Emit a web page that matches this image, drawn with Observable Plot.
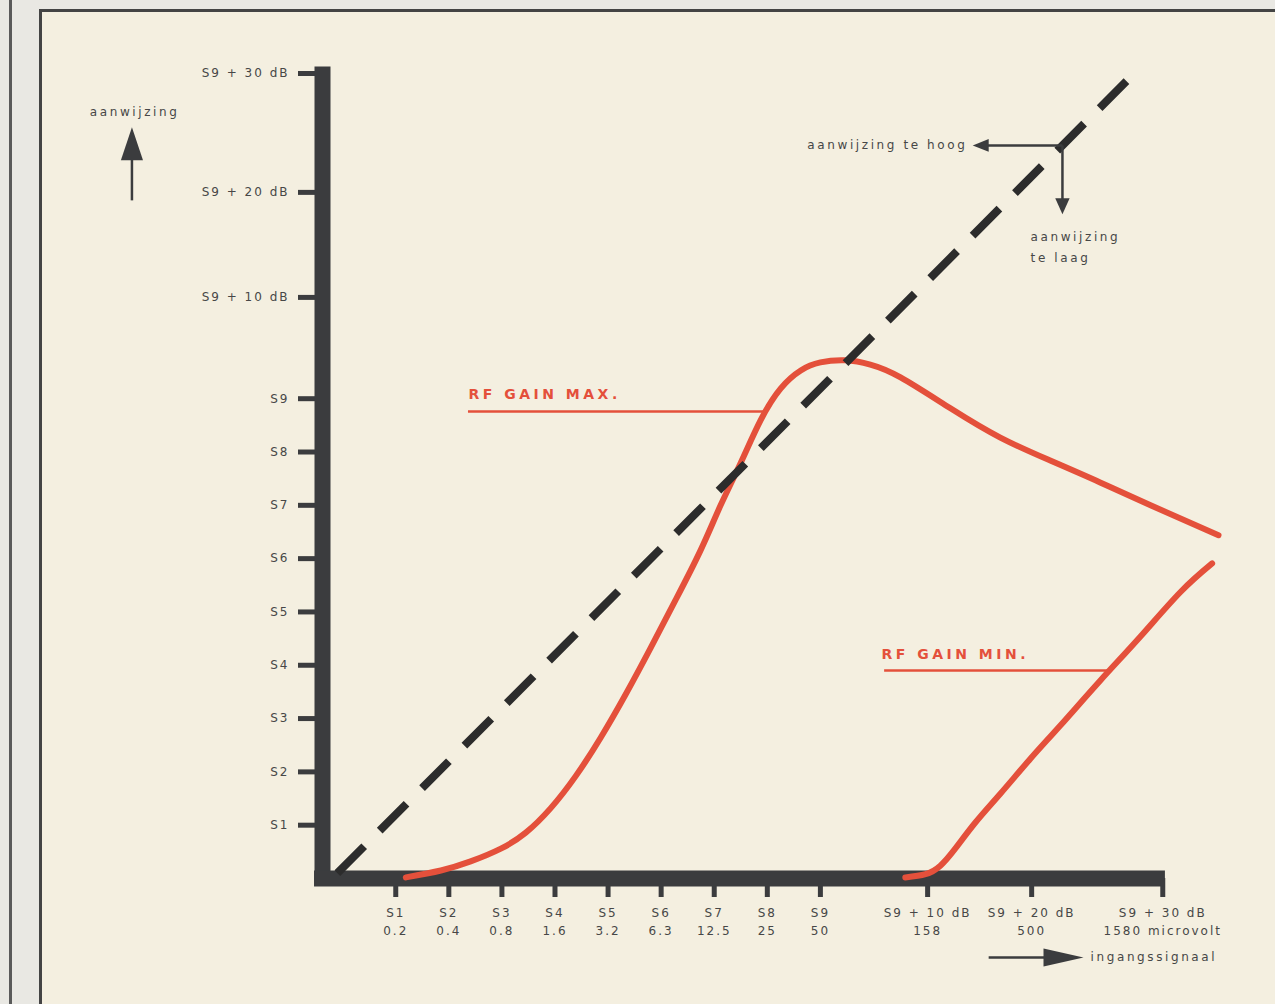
<!DOCTYPE html>
<html><head><meta charset="utf-8">
<script src="https://cdn.jsdelivr.net/npm/d3@7"></script>
<script src="https://cdn.jsdelivr.net/npm/@observablehq/plot@0.6"></script>
<style>
html,body{margin:0;padding:0;width:1275px;height:1004px;overflow:hidden;background:#e9e8e3;}
#outer{position:absolute;left:9px;top:0;width:3px;height:1004px;background:#5a5a5a;}
#paper{position:absolute;left:39px;top:9px;width:1236px;height:995px;background:#f4efe0;border-left:3px solid #444;border-top:3px solid #444;}
#chart{position:absolute;left:0;top:0;}
g[aria-label="y-axis tick label"], g[aria-label="x-axis tick label"]{letter-spacing:2px;}
</style></head><body>
<div id="outer"></div><div id="paper"></div><div id="chart"></div>
<script>
// ---- data (positions in chart units: one S-unit = 1) ----
const yTickPos = [1, 2, 3, 4, 5, 6, 7, 8, 9, 10.9, 12.87, 15.1];
const yTickLabels = ["S1","S2","S3","S4","S5","S6","S7","S8","S9","S9 + 10 dB","S9 + 20 dB","S9 + 30 dB"];
const xTickPos = [1, 2, 3, 4, 5, 6, 7, 8, 9, 11.02, 12.98, 15.45];
const xTickSUnits = ["S1","S2","S3","S4","S5","S6","S7","S8","S9","S9 + 10 dB","S9 + 20 dB","S9 + 30 dB"];
const xTickMicrovolt = ["0.2","0.4","0.8","1.6","3.2","6.3","12.5","25","50","158","500","1580 microvolt"];

const rfMaxX = [1.19, 1.85, 2.41, 2.98, 3.45, 3.92, 4.39, 4.86, 5.33, 5.80, 6.27, 6.74, 7.12, 7.50, 7.87, 8.25, 8.63, 9.00, 9.47, 9.94, 10.51, 11.45, 12.39, 13.33, 14.27, 15.22, 16.5];
const rfMaxY = [0.02, 0.15, 0.32, 0.56, 0.86, 1.32, 1.92, 2.64, 3.45, 4.32, 5.22, 6.15, 7.00, 7.80, 8.59, 9.19, 9.53, 9.68, 9.72, 9.64, 9.40, 8.82, 8.27, 7.84, 7.43, 7.00, 6.44];
const rfMinX = [10.60, 10.98, 11.26, 11.54, 11.92, 12.39, 12.96, 13.52, 14.27, 15.03, 15.78, 16.38];
const rfMinY = [0.02, 0.08, 0.24, 0.56, 1.05, 1.59, 2.25, 2.87, 3.71, 4.54, 5.37, 5.91];
const idealX = [-0.1, 14.97];
const idealY = [0.1, 15.16];

const seriesNames = ["RF GAIN MAX.", "RF GAIN MIN."];
const seriesLabelX = [2.37, 10.15];
const seriesLabelY = [9.08, 4.20];
const leaderX1 = [2.37, 10.21];
const leaderX2 = [7.97, 14.46];
const leaderY = [8.76, 3.90];

// ---- styles ----
const red = "#e4503b";
const ink = "#3b3c3e";
const textColor = "#474747";

const line = (xs, ys) => xs.map((x, i) => ({x, y: ys[i]}));
const yLabelOf = new Map(yTickPos.map((p, i) => [p, yTickLabels[i]]));
const xLabelOf = new Map(xTickPos.map((p, i) => [p, xTickSUnits[i] + "\n" + xTickMicrovolt[i]]));
const seriesLabels = seriesNames.map((name, i) => ({name, x: seriesLabelX[i], y: seriesLabelY[i]}));
const leaders = leaderY.map((y, i) => ({x1: leaderX1[i], x2: leaderX2[i], y}));

function head(dir, ratio) {
  return {draw(ctx, size) {
    const r = Math.sqrt(size / Math.PI), w = ratio * r;
    if (dir === "up") { ctx.moveTo(0, -r); ctx.lineTo(w, r); ctx.lineTo(-w, r); }
    else if (dir === "down") { ctx.moveTo(0, r); ctx.lineTo(w, -r); ctx.lineTo(-w, -r); }
    else if (dir === "left") { ctx.moveTo(-r, 0); ctx.lineTo(r, -w); ctx.lineTo(r, w); }
    else { ctx.moveTo(r, 0); ctx.lineTo(-r, -w); ctx.lineTo(-r, w); }
    ctx.closePath();
  }};
}

const shafts = [
  {x1: -3.97, y1: 12.72, x2: -3.97, y2: 13.5},
  {x1: 13.56, y1: 13.75, x2: 12.1, y2: 13.75},
  {x1: 13.56, y1: 13.75, x2: 13.56, y2: 12.7},
  {x1: 12.17, y1: -1.48, x2: 13.3, y2: -1.48}
];

const chart = Plot.plot({
  width: 1275,
  height: 1004,
  marginLeft: 322,
  marginRight: 57,
  marginTop: 57,
  marginBottom: 126,
  x: {domain: [-0.38, 16.5]},
  y: {domain: [0, 15.4]},
  style: {background: "transparent", overflow: "visible", fontFamily: "DejaVu Sans", color: ink},
  marks: [
    Plot.axisY(yTickPos, {anchor: "left", tickSize: 24, tickPadding: 9, tickFormat: d => yLabelOf.get(d),
      stroke: ink, strokeWidth: 5, fill: textColor, fontSize: 12, label: null}),
    Plot.axisX(xTickPos, {anchor: "bottom", tickSize: 19, tickPadding: 7, tickFormat: d => xLabelOf.get(d),
      stroke: ink, strokeWidth: 5, fill: textColor, fontSize: 12, lineHeight: 1.5, label: null}),
    // heavy axis bars
    Plot.ruleX([-0.38], {y1: -0.15, y2: 15.22, stroke: ink, strokeWidth: 16}),
    Plot.ruleY([0], {x1: -0.53, x2: 15.5, stroke: ink, strokeWidth: 16}),
    // curves
    Plot.line(line(rfMaxX, rfMaxY), {x: "x", y: "y", curve: "natural", stroke: red, strokeWidth: 6, strokeLinecap: "round"}),
    Plot.line(line(rfMinX, rfMinY), {x: "x", y: "y", curve: "natural", stroke: red, strokeWidth: 6, strokeLinecap: "round"}),
    // ideal dashed line
    Plot.line(line(idealX, idealY), {x: "x", y: "y", stroke: "#2c2c2c", strokeWidth: 8, strokeDasharray: "38,22", strokeLinecap: "butt"}),
    // series labels and leaders
    Plot.ruleY(leaders, {y: "y", x1: "x1", x2: "x2", stroke: red, strokeWidth: 2.5}),
    Plot.text(seriesLabels, {x: "x", y: "y", text: "name", textAnchor: "start", fill: red, fontSize: 14, fontWeight: "bold"}),
    // arrows
    Plot.link(shafts, {x1: "x1", y1: "y1", x2: "x2", y2: "y2", stroke: ink, strokeWidth: 2.5}),
    Plot.dot([{x: -3.97, y: 13.78}], {x: "x", y: "y", r: 16.5, symbol: head("up", 0.67), fill: ink, stroke: "none"}),
    Plot.dot([{x: 12.02, y: 13.75}], {x: "x", y: "y", r: 8, symbol: head("left", 0.8), fill: ink, stroke: "none"}),
    Plot.dot([{x: 13.56, y: 12.61}], {x: "x", y: "y", r: 8, symbol: head("down", 0.9), fill: ink, stroke: "none"}),
    Plot.dot([{x: 13.58, y: -1.48}], {x: "x", y: "y", r: 20, symbol: head("right", 0.45), fill: ink, stroke: "none"}),
    // annotation texts
    Plot.text([{t: "aanwijzing", x: -3.92, y: 14.37}], {x: "x", y: "y", text: "t", textAnchor: "middle", fontSize: 12, fill: textColor}),
    Plot.text([{t: "aanwijzing te hoog", x: 11.77, y: 13.75}], {x: "x", y: "y", text: "t", textAnchor: "end", fontSize: 12, fill: textColor}),
    Plot.text([{t: "aanwijzing\nte laag", x: 12.96, y: 12.25}], {x: "x", y: "y", text: "t", textAnchor: "start", lineAnchor: "top", lineHeight: 1.8, fontSize: 12, fill: textColor}),
    Plot.text([{t: "ingangssignaal", x: 14.09, y: -1.48}], {x: "x", y: "y", text: "t", textAnchor: "start", fontSize: 12, fill: textColor})
  ]
});
// widen the letter spacing of the annotation texts, as in the printed original
d3.select(chart).selectAll('g[aria-label="text"]').each(function () {
  const g = d3.select(this);
  g.style("letter-spacing", g.attr("fill") === red ? "3.5px" : "2.6px");
});
document.getElementById("chart").appendChild(chart);
</script>
</body></html>
